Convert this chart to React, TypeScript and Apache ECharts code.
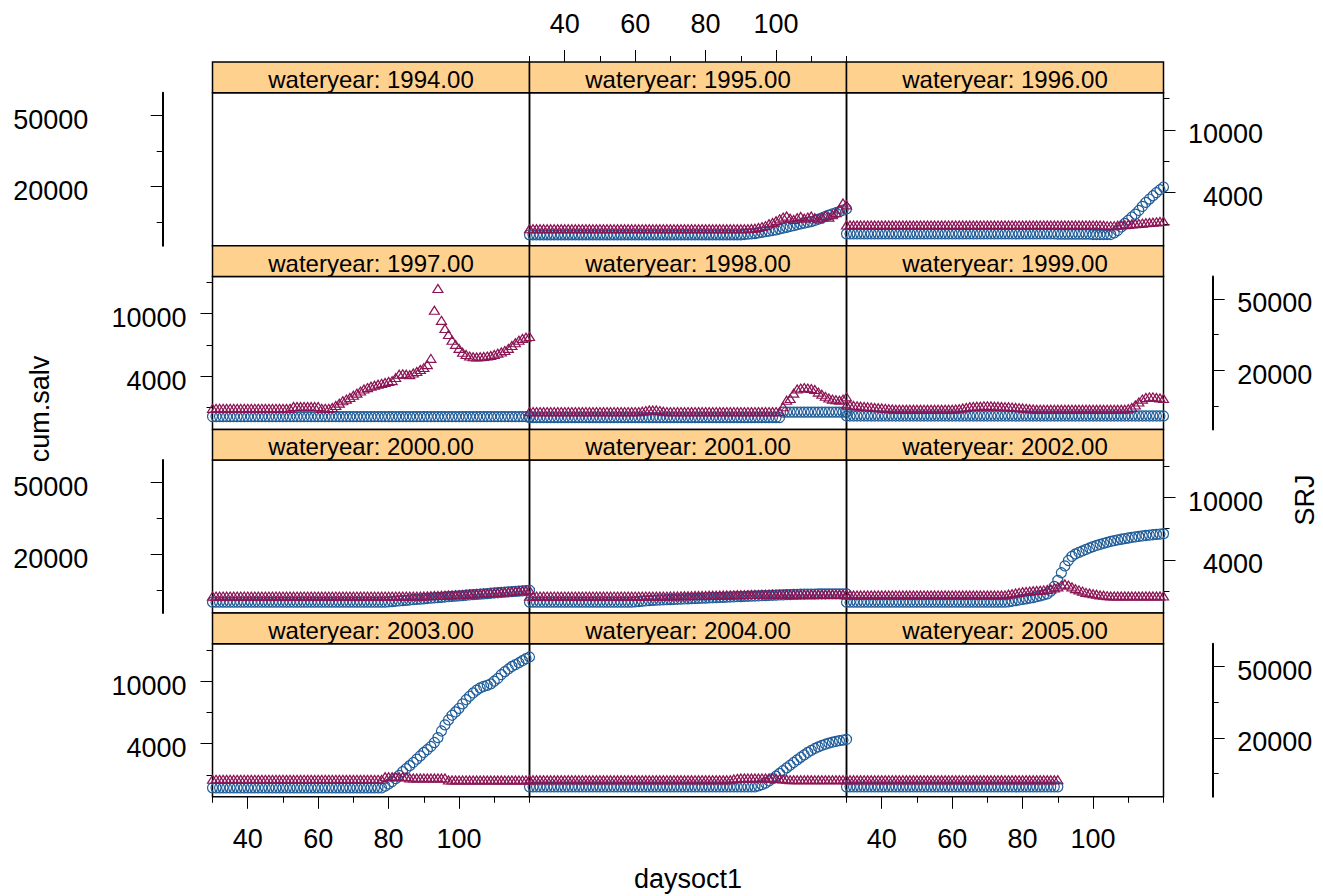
import { useEffect, useRef } from "react";
import * as echarts from "echarts";

// ---------------- data ----------------
const days = [
  30, 31, 32, 33, 34, 35, 36, 37, 38, 39,
  40, 41, 42, 43, 44, 45, 46, 47, 48, 49,
  50, 51, 52, 53, 54, 55, 56, 57, 58, 59,
  60, 61, 62, 63, 64, 65, 66, 67, 68, 69,
  70, 71, 72, 73, 74, 75, 76, 77, 78, 79,
  80, 81, 82, 83, 84, 85, 86, 87, 88, 89,
  90, 91, 92, 93, 94, 95, 96, 97, 98, 99,
  100, 101, 102, 103, 104, 105, 106, 107, 108, 109,
  110, 111, 112, 113, 114, 115, 116, 117, 118, 119,
  120,
];

const years = [1994, 1995, 1996, 1997, 1998, 1999, 2000, 2001, 2002, 2003, 2004, 2005];

const cum1994: number[] = [];
const srj1994: number[] = [];

const cum1995 = [
  2140, 2140, 2140, 2140, 2140, 2140, 2140, 2140, 2140, 2140,
  2140, 2140, 2140, 2140, 2140, 2140, 2140, 2140, 2140, 2140,
  2140, 2140, 2140, 2140, 2140, 2140, 2140, 2140, 2140, 2140,
  2140, 2140, 2140, 2140, 2140, 2140, 2140, 2140, 2140, 2140,
  2140, 2140, 2140, 2140, 2140, 2140, 2140, 2140, 2140, 2140,
  2140, 2140, 2140, 2140, 2140, 2140, 2140, 2140, 2140, 2140,
  2140, 2150, 2160, 2170, 2180, 2200, 2220, 2240, 2260, 2280,
  2300, 2330, 2360, 2390, 2420, 2450, 2480, 2510, 2540, 2570,
  2600, 2640, 2690, 2740, 2800, 2860, 2910, 2960, 3010, 3070,
  3130,
];
const srj1995 = [
  11630, 11630, 11630, 11630, 11630, 11630, 11630, 11630, 11630, 11630,
  11630, 11630, 11630, 11630, 11630, 11630, 11630, 11630, 11630, 11630,
  11630, 11630, 11630, 11630, 11630, 11630, 11630, 11630, 11630, 11630,
  11630, 11630, 11630, 11630, 11630, 11630, 11630, 11630, 11630, 11630,
  11630, 11630, 11630, 11630, 11630, 11630, 11630, 11630, 11630, 11630,
  11630, 11630, 11630, 11630, 11630, 11630, 11630, 11630, 11630, 11630,
  11630, 11630, 11630, 11650, 11700, 11800, 11950, 12100, 12400, 12600,
  12900, 13200, 13500, 13700, 13300, 13100, 13400, 13600, 13300, 13500,
  13700, 13400, 13200, 13500, 13800, 13500, 13900, 14300, 15000, 16200,
  15800,
];

const cum1996 = [
  2170, 2170, 2170, 2170, 2170, 2170, 2170, 2170, 2170, 2170,
  2170, 2170, 2170, 2170, 2170, 2170, 2170, 2170, 2170, 2170,
  2170, 2170, 2170, 2170, 2170, 2170, 2170, 2170, 2170, 2170,
  2170, 2170, 2170, 2170, 2170, 2170, 2170, 2170, 2170, 2170,
  2170, 2170, 2170, 2170, 2170, 2170, 2170, 2170, 2170, 2170,
  2170, 2170, 2170, 2170, 2170, 2170, 2170, 2170, 2170, 2170,
  2160, 2160, 2160, 2160, 2160, 2160, 2160, 2160, 2160, 2160,
  2150, 2150, 2150, 2150, 2150, 2150, 2200, 2280, 2400, 2530,
  2650, 2780, 2900, 3060, 3250, 3450, 3620, 3800, 3980, 4150,
  4320,
];
const srj1996 = [
  12200, 12200, 12200, 12200, 12200, 12200, 12200, 12200, 12200, 12200,
  12200, 12200, 12200, 12200, 12200, 12200, 12200, 12200, 12200, 12200,
  12200, 12200, 12200, 12200, 12200, 12200, 12200, 12200, 12200, 12200,
  12200, 12200, 12200, 12200, 12200, 12200, 12200, 12200, 12200, 12200,
  12200, 12200, 12200, 12200, 12200, 12200, 12200, 12200, 12200, 12200,
  12200, 12200, 12200, 12200, 12200, 12200, 12200, 12200, 12200, 12200,
  12200, 12200, 12200, 12200, 12200, 12200, 12200, 12200, 12200, 12200,
  12200, 12200, 12200, 12150, 12100, 12100, 12100, 12150, 12200, 12250,
  12300, 12350, 12400, 12450, 12500, 12550, 12600, 12650, 12700, 12750,
  12800,
];

const cum1997 = [
  2200, 2200, 2200, 2200, 2200, 2200, 2200, 2200, 2200, 2200,
  2200, 2200, 2200, 2200, 2200, 2200, 2200, 2200, 2200, 2200,
  2200, 2200, 2200, 2200, 2200, 2200, 2200, 2200, 2200, 2200,
  2200, 2200, 2200, 2200, 2200, 2200, 2200, 2200, 2200, 2200,
  2200, 2200, 2200, 2200, 2200, 2200, 2200, 2200, 2200, 2200,
  2200, 2200, 2200, 2200, 2200, 2200, 2200, 2200, 2200, 2200,
  2200, 2200, 2200, 2200, 2200, 2200, 2200, 2200, 2200, 2200,
  2200, 2200, 2200, 2200, 2200, 2200, 2200, 2200, 2200, 2200,
  2200, 2200, 2200, 2200, 2200, 2200, 2200, 2200, 2200, 2200,
  2200,
];
const srj1997 = [
  12250, 12250, 12250, 12250, 12250, 12250, 12250, 12250, 12250, 12250,
  12250, 12250, 12250, 12250, 12250, 12250, 12250, 12250, 12250, 12250,
  12250, 12250, 12250, 12560, 12560, 12560, 12560, 12560, 12560, 12560,
  12560, 12250, 12250, 12250, 12400, 12700, 13100, 13500, 13800, 14100,
  14500, 14900, 15300, 15700, 16000, 16300, 16500, 16700, 16900, 17100,
  17300, 17500, 18200, 19000, 19100, 19000, 18900, 19300, 19700, 20200,
  20700, 21500, 23300, 43300, 57300, 38000, 34200, 31700, 29400, 27900,
  26500, 25200, 24500, 24000, 23800, 23700, 23800, 23900, 24000, 24200,
  24500, 24900, 25300, 25800, 26500, 27500, 28500, 29400, 30100, 30600,
  30900,
];

const cum1998 = [
  2170, 2170, 2170, 2170, 2170, 2170, 2170, 2170, 2170, 2170,
  2170, 2170, 2170, 2170, 2170, 2170, 2170, 2170, 2170, 2170,
  2170, 2170, 2170, 2170, 2170, 2170, 2170, 2170, 2170, 2170,
  2170, 2170, 2170, 2170, 2170, 2170, 2170, 2170, 2170, 2170,
  2170, 2170, 2170, 2170, 2170, 2170, 2170, 2170, 2170, 2170,
  2170, 2170, 2170, 2170, 2170, 2170, 2170, 2170, 2170, 2170,
  2170, 2170, 2170, 2170, 2170, 2170, 2170, 2170, 2170, 2170,
  2170, 2170, 2350, 2350, 2350, 2350, 2350, 2350, 2350, 2350,
  2350, 2350, 2350, 2350, 2350, 2350, 2350, 2350, 2350, 2350,
  2350,
];
const srj1998 = [
  11750, 11750, 11750, 11750, 11750, 11750, 11750, 11750, 11750, 11750,
  11750, 11750, 11750, 11750, 11750, 11750, 11750, 11750, 11750, 11750,
  11750, 11750, 11750, 11750, 11750, 11750, 11750, 11750, 11750, 11750,
  11750, 11750, 11800, 11900, 12000, 12000, 12000, 11900, 11800, 11750,
  11750, 11750, 11750, 11750, 11750, 11750, 11750, 11750, 11750, 11750,
  11750, 11750, 11750, 11750, 11750, 11750, 11750, 11750, 11750, 11750,
  11750, 11750, 11750, 11750, 11750, 11750, 11750, 11750, 11750, 11750,
  11750, 11750, 12500, 13600, 13900, 14900, 15700, 15900, 16000, 15900,
  15800, 15600, 15100, 14700, 14300, 14000, 13800, 13700, 13600, 13800,
  14200,
];

const cum1999 = [
  2220, 2220, 2220, 2220, 2220, 2220, 2220, 2220, 2220, 2220,
  2220, 2220, 2220, 2220, 2220, 2220, 2220, 2220, 2220, 2220,
  2220, 2220, 2220, 2220, 2220, 2220, 2220, 2220, 2220, 2220,
  2220, 2220, 2220, 2220, 2220, 2220, 2220, 2220, 2220, 2220,
  2220, 2220, 2220, 2220, 2220, 2220, 2220, 2220, 2220, 2220,
  2220, 2220, 2220, 2220, 2220, 2220, 2220, 2220, 2220, 2220,
  2220, 2220, 2220, 2220, 2220, 2220, 2220, 2220, 2220, 2220,
  2220, 2220, 2220, 2220, 2220, 2220, 2220, 2220, 2220, 2220,
  2220, 2220, 2220, 2220, 2220, 2220, 2220, 2220, 2220, 2220,
  2220,
];
const srj1999 = [
  12800, 12750, 12700, 12650, 12600, 12550, 12500, 12450, 12400, 12350,
  12300, 12250, 12200, 12150, 12100, 12100, 12100, 12100, 12100, 12100,
  12100, 12100, 12100, 12100, 12100, 12100, 12100, 12100, 12100, 12100,
  12100, 12150, 12200, 12300, 12400, 12500, 12550, 12600, 12600, 12650,
  12650, 12650, 12600, 12600, 12550, 12500, 12500, 12450, 12400, 12350,
  12300, 12250, 12200, 12150, 12100, 12100, 12100, 12100, 12100, 12100,
  12100, 12100, 12100, 12100, 12100, 12100, 12100, 12100, 12100, 12100,
  12100, 12100, 12100, 12100, 12100, 12100, 12100, 12100, 12100, 12100,
  12200, 12400, 12800, 13300, 13800, 14100, 14200, 14200, 14100, 14000,
  13900,
];

const cum2000 = [
  2140, 2140, 2140, 2140, 2140, 2140, 2140, 2140, 2140, 2140,
  2140, 2140, 2140, 2140, 2140, 2140, 2140, 2140, 2140, 2140,
  2140, 2140, 2140, 2140, 2140, 2140, 2140, 2140, 2140, 2140,
  2140, 2140, 2140, 2140, 2140, 2140, 2140, 2140, 2140, 2140,
  2140, 2140, 2140, 2140, 2140, 2140, 2140, 2140, 2140, 2140,
  2150, 2160, 2170, 2180, 2190, 2200, 2210, 2220, 2230, 2240,
  2250, 2260, 2270, 2280, 2290, 2300, 2310, 2320, 2330, 2340,
  2350, 2360, 2370, 2380, 2390, 2400, 2410, 2420, 2430, 2440,
  2450, 2460, 2470, 2480, 2490, 2500, 2510, 2520, 2530, 2540,
  2550,
];
const srj2000 = [
  11630, 11630, 11630, 11630, 11630, 11630, 11630, 11630, 11630, 11630,
  11630, 11630, 11630, 11630, 11630, 11630, 11630, 11630, 11630, 11630,
  11630, 11630, 11630, 11630, 11630, 11630, 11630, 11630, 11630, 11630,
  11630, 11630, 11630, 11630, 11630, 11630, 11630, 11630, 11630, 11630,
  11630, 11630, 11630, 11630, 11630, 11630, 11630, 11630, 11630, 11630,
  11630, 11630, 11630, 11630, 11630, 11630, 11630, 11630, 11630, 11630,
  11650, 11670, 11690, 11710, 11730, 11750, 11770, 11790, 11810, 11830,
  11850, 11880, 11910, 11940, 11970, 12000, 12030, 12060, 12090, 12120,
  12150, 12190, 12230, 12270, 12310, 12350, 12400, 12450, 12500, 12550,
  12600,
];

const cum2001 = [
  2140, 2140, 2140, 2140, 2140, 2140, 2140, 2140, 2140, 2140,
  2140, 2140, 2140, 2140, 2140, 2140, 2140, 2140, 2140, 2140,
  2140, 2140, 2140, 2140, 2140, 2140, 2140, 2140, 2140, 2140,
  2150, 2160, 2170, 2180, 2190, 2200, 2205, 2210, 2215, 2220,
  2225, 2230, 2235, 2240, 2245, 2250, 2255, 2260, 2265, 2270,
  2275, 2280, 2285, 2290, 2295, 2300, 2305, 2310, 2315, 2320,
  2325, 2330, 2335, 2340, 2345, 2350, 2355, 2360, 2365, 2370,
  2375, 2380, 2385, 2390, 2395, 2400, 2400, 2405, 2405, 2410,
  2410, 2410, 2415, 2415, 2415, 2420, 2420, 2420, 2420, 2420,
  2420,
];
const srj2001 = [
  11630, 11630, 11630, 11630, 11630, 11630, 11630, 11630, 11630, 11630,
  11630, 11630, 11630, 11630, 11630, 11630, 11630, 11630, 11630, 11630,
  11630, 11630, 11630, 11630, 11630, 11630, 11630, 11630, 11630, 11630,
  11630, 11630, 11630, 11630, 11630, 11630, 11630, 11630, 11630, 11630,
  11640, 11650, 11660, 11670, 11680, 11690, 11700, 11710, 11720, 11730,
  11740, 11750, 11760, 11770, 11780, 11790, 11800, 11810, 11820, 11830,
  11840, 11850, 11860, 11870, 11880, 11890, 11900, 11900, 11900, 11900,
  11900, 11900, 11900, 11900, 11900, 11900, 11900, 11900, 11900, 11900,
  11900, 11900, 11900, 11900, 11900, 11900, 11900, 11900, 11900, 11900,
  11900,
];

const cum2002 = [
  2140, 2140, 2140, 2140, 2140, 2140, 2140, 2140, 2140, 2140,
  2140, 2140, 2140, 2140, 2140, 2140, 2140, 2140, 2140, 2140,
  2140, 2140, 2140, 2140, 2140, 2140, 2140, 2140, 2140, 2140,
  2140, 2140, 2140, 2140, 2140, 2140, 2140, 2140, 2140, 2140,
  2140, 2140, 2140, 2140, 2140, 2140, 2150, 2170, 2190, 2210,
  2230, 2250, 2270, 2290, 2320, 2350, 2380, 2420, 2520, 2700,
  2950, 3300, 3650, 3950, 4200, 4350, 4450, 4550, 4650, 4750,
  4850, 4930, 5010, 5090, 5160, 5230, 5290, 5350, 5400, 5450,
  5500, 5550, 5590, 5630, 5670, 5710, 5740, 5770, 5800, 5830,
  5860,
];
const srj2002 = [
  11800, 11800, 11800, 11800, 11800, 11800, 11800, 11800, 11800, 11800,
  11800, 11800, 11800, 11800, 11800, 11800, 11800, 11800, 11800, 11800,
  11800, 11800, 11800, 11800, 11800, 11800, 11800, 11800, 11800, 11800,
  11800, 11800, 11800, 11800, 11800, 11800, 11800, 11800, 11800, 11800,
  11800, 11800, 11800, 11800, 11800, 11800, 11900, 12000, 12100, 12200,
  12300, 12350, 12400, 12450, 12500, 12550, 12600, 12650, 12750, 12900,
  13100, 13400, 13600, 13400, 13100, 12800, 12600, 12400, 12200, 12100,
  12000, 11900, 11800, 11750, 11700, 11650, 11650, 11650, 11650, 11650,
  11650, 11650, 11650, 11650, 11650, 11650, 11650, 11650, 11650, 11650,
  11650,
];

const cum2003 = [
  2080, 2080, 2080, 2080, 2080, 2080, 2080, 2080, 2080, 2080,
  2080, 2080, 2080, 2080, 2080, 2080, 2080, 2080, 2080, 2080,
  2080, 2080, 2080, 2080, 2080, 2080, 2080, 2080, 2080, 2080,
  2080, 2080, 2080, 2080, 2080, 2080, 2080, 2080, 2080, 2080,
  2080, 2080, 2080, 2080, 2080, 2080, 2080, 2080, 2080, 2130,
  2200, 2280, 2380, 2500, 2640, 2760, 2880, 3020, 3170, 3330,
  3500, 3650, 3820, 4050, 4350, 4800, 5250, 5650, 6050, 6350,
  6700, 7150, 7600, 8000, 8400, 8750, 9050, 9250, 9400, 9600,
  10000, 10400, 11000, 11500, 11950, 12400, 12750, 13100, 13500, 13900,
  14250,
];
const srj2003 = [
  11700, 11700, 11700, 11700, 11700, 11700, 11700, 11700, 11700, 11700,
  11700, 11700, 11700, 11700, 11700, 11700, 11700, 11700, 11700, 11700,
  11700, 11700, 11700, 11700, 11700, 11700, 11700, 11700, 11700, 11700,
  11700, 11700, 11700, 11700, 11700, 11700, 11700, 11700, 11700, 11700,
  11700, 11700, 11700, 11700, 11700, 11700, 11700, 11700, 11700, 12100,
  12100, 12100, 12100, 12100, 12100, 12100, 11900, 11900, 11900, 11900,
  11900, 11900, 11900, 11900, 11900, 11900, 11900, 11600, 11600, 11600,
  11600, 11600, 11600, 11600, 11600, 11600, 11600, 11600, 11600, 11600,
  11600, 11600, 11600, 11600, 11600, 11600, 11600, 11600, 11600, 11600,
  11600,
];

const cum2004 = [
  2110, 2110, 2110, 2110, 2110, 2110, 2110, 2110, 2110, 2110,
  2110, 2110, 2110, 2110, 2110, 2110, 2110, 2110, 2110, 2110,
  2110, 2110, 2110, 2110, 2110, 2110, 2110, 2110, 2110, 2110,
  2110, 2110, 2110, 2110, 2110, 2110, 2110, 2110, 2110, 2110,
  2110, 2110, 2110, 2110, 2110, 2110, 2110, 2110, 2110, 2110,
  2110, 2110, 2110, 2110, 2110, 2110, 2110, 2110, 2110, 2110,
  2110, 2110, 2110, 2110, 2110, 2140, 2180, 2230, 2300, 2380,
  2470, 2570, 2680, 2790, 2900, 3020, 3140, 3260, 3380, 3500,
  3610, 3710, 3800, 3880, 3950, 4010, 4070, 4120, 4160, 4200,
  4240,
];
const srj2004 = [
  11650, 11650, 11650, 11650, 11650, 11650, 11650, 11650, 11650, 11650,
  11650, 11650, 11650, 11650, 11650, 11650, 11650, 11650, 11650, 11650,
  11650, 11650, 11650, 11650, 11650, 11650, 11650, 11650, 11650, 11650,
  11650, 11650, 11650, 11650, 11650, 11650, 11650, 11650, 11650, 11650,
  11650, 11650, 11650, 11650, 11650, 11650, 11650, 11650, 11650, 11650,
  11650, 11650, 11650, 11650, 11650, 11650, 11650, 11650, 11750, 11850,
  11900, 11900, 11900, 11900, 11900, 11900, 11900, 11900, 11900, 11900,
  11850, 11800, 11750, 11700, 11650, 11650, 11650, 11650, 11650, 11650,
  11650, 11650, 11650, 11650, 11650, 11650, 11650, 11650, 11650, 11650,
  11650,
];

const cum2005 = [
  2110, 2110, 2110, 2110, 2110, 2110, 2110, 2110, 2110, 2110,
  2110, 2110, 2110, 2110, 2110, 2110, 2110, 2110, 2110, 2110,
  2110, 2110, 2110, 2110, 2110, 2110, 2110, 2110, 2110, 2110,
  2110, 2110, 2110, 2110, 2110, 2110, 2110, 2110, 2110, 2110,
  2110, 2110, 2110, 2110, 2110, 2110, 2110, 2110, 2110, 2110,
  2110, 2110, 2110, 2110, 2110, 2110, 2110, 2110, 2110, 2110,
  2110,
];
const srj2005 = [
  11650, 11650, 11650, 11650, 11650, 11650, 11650, 11650, 11650, 11650,
  11650, 11650, 11650, 11650, 11650, 11650, 11650, 11650, 11650, 11650,
  11650, 11650, 11650, 11650, 11650, 11650, 11650, 11650, 11650, 11650,
  11650, 11650, 11650, 11650, 11650, 11650, 11650, 11650, 11650, 11650,
  11650, 11650, 11650, 11650, 11650, 11650, 11650, 11650, 11650, 11650,
  11650, 11650, 11650, 11650, 11650, 11650, 11650, 11650, 11650, 11650,
  11650,
];

const cumByYear = [cum1994, cum1995, cum1996, cum1997, cum1998, cum1999, cum2000, cum2001, cum2002, cum2003, cum2004, cum2005];
const srjByYear = [srj1994, srj1995, srj1996, srj1997, srj1998, srj1999, srj2000, srj2001, srj2002, srj2003, srj2004, srj2005];

// axis limits (log10 scale) and ticks
const xLimits = [30, 120];
const xMajorTicks = [40, 60, 80, 100];
const xMinorTicks = [30, 50, 70, 90, 110, 120];
const cumLimitsLog = [3.2607, 4.2383];
const cumMajorTicksLog = [3.6, 4.0];
const cumMajorLabels = ["4000", "10000"];
const cumMinorTicksLog = [3.4, 3.8, 4.2];
const srjLimitsLog = [3.9706, 4.8253];
const srjMajorTicksLog = [4.3, 4.7];
const srjMajorLabels = ["20000", "50000"];
const srjMinorTicksLog = [4.1, 4.5];

// ---------------- style / layout ----------------
const FONT = "'Liberation Sans', Arial, Helvetica, sans-serif";
const BLUE = "#1f5c98";
const RED = "#8c1454";
const STRIP = "#ffd18f";
const colLeft = [212.5, 529.5, 846.5];
const panelW = 317;
const stripH = 30.7;
const panelH = 153;
const rowPitch = 183.7;
const firstStripTop = 62;
const panelTop = (r: number) => firstStripTop + stripH + r * rowPitch;

function labelFor(ticks: number[], labels: string[]) {
  return (v: number) => {
    let best = -1;
    let bd = 1e9;
    ticks.forEach((t, i) => {
      const d = Math.abs(t - v);
      if (d < bd) {
        bd = d;
        best = i;
      }
    });
    return bd < 1e-6 ? labels[best] : "";
  };
}

function buildOption() {
  const grid: any[] = [];
  const xAxis: any[] = [];
  const yAxis: any[] = [];
  const series: any[] = [];
  const graphic: any[] = [];

  years.forEach((yr, i) => {
    const r = Math.floor(i / 3);
    const c = i % 3;
    const left = colLeft[c];
    const top = panelTop(r);
    grid.push({
      left,
      top,
      width: panelW,
      height: panelH,
      show: true,
      borderColor: "#000",
      borderWidth: 1.5,
      backgroundColor: "transparent",
    });
    xAxis.push({ gridIndex: i, type: "value", min: xLimits[0], max: xLimits[1], show: false });
    yAxis.push({ gridIndex: i, type: "value", min: cumLimitsLog[0], max: cumLimitsLog[1], show: false });
    yAxis.push({ gridIndex: i, type: "value", min: srjLimitsLog[0], max: srjLimitsLog[1], show: false });

    const cumVals = cumByYear[i];
    const srjVals = srjByYear[i];
    series.push({
      type: "scatter",
      xAxisIndex: i,
      yAxisIndex: 2 * i,
      data: cumVals.map((v, k) => [days[k], Math.log10(v)]),
      symbol: "circle",
      symbolSize: 10,
      clip: false,
      silent: true,
      itemStyle: { color: "transparent", borderColor: BLUE, borderWidth: 1.2, opacity: 1 },
      z: 3,
    });
    series.push({
      type: "scatter",
      xAxisIndex: i,
      yAxisIndex: 2 * i + 1,
      data: srjVals.map((v, k) => [days[k], Math.log10(v)]),
      symbol: "triangle",
      symbolSize: [10, 8],
      clip: false,
      silent: true,
      itemStyle: { color: "transparent", borderColor: RED, borderWidth: 1.2, opacity: 1 },
      z: 4,
    });

    // strip
    graphic.push({
      type: "rect",
      shape: { x: left, y: top - stripH, width: panelW, height: stripH },
      style: { fill: STRIP, stroke: "#000", lineWidth: 1.5 },
      silent: true,
    });
    graphic.push({
      type: "text",
      x: left + panelW / 2,
      y: top - stripH + 17.5,
      style: {
        text: `wateryear: ${yr}.00`,
        fontSize: 24,
        fontFamily: FONT,
        fill: "#000",
        textAlign: "center",
        textVerticalAlign: "middle",
      },
      silent: true,
    });
  });

  // decoration x axes
  const xDeco = (g: number, position: string, offset: number, margin: number) => {
    const base = {
      gridIndex: g,
      type: "value",
      min: xLimits[0],
      max: xLimits[1],
      position,
      offset,
      axisLine: { show: false, onZero: false },
      splitLine: { show: false },
    };
    xAxis.push({
      ...base,
      axisTick: { show: true, length: 12, customValues: xMajorTicks, lineStyle: { color: "#000", width: 1 } },
      axisLabel: {
        show: true,
        customValues: xMajorTicks,
        fontSize: 27,
        fontFamily: FONT,
        color: "#000",
        margin,
      },
    });
    xAxis.push({
      ...base,
      axisTick: { show: true, length: 6, customValues: xMinorTicks, lineStyle: { color: "#000", width: 1 } },
      axisLabel: { show: false },
    });
  };
  xDeco(9, "bottom", 0, 29);
  xDeco(11, "bottom", 0, 29);
  xDeco(1, "top", stripH, 24.5);

  // decoration y axes
  const yDeco = (
    g: number,
    kind: "cum" | "srj",
    position: string,
    offset: number,
    margin: number,
    showLine: boolean,
    align?: string
  ) => {
    const lim = kind === "cum" ? cumLimitsLog : srjLimitsLog;
    const majors = kind === "cum" ? cumMajorTicksLog : srjMajorTicksLog;
    const labels = kind === "cum" ? cumMajorLabels : srjMajorLabels;
    const minors = kind === "cum" ? cumMinorTicksLog : srjMinorTicksLog;
    const base = {
      gridIndex: g,
      type: "value",
      min: lim[0],
      max: lim[1],
      position,
      offset,
      splitLine: { show: false },
    };
    yAxis.push({
      ...base,
      axisLine: { show: showLine, onZero: false, lineStyle: { color: "#000", width: 2 } },
      axisTick: { show: true, length: 12, customValues: majors, lineStyle: { color: "#000", width: 1 } },
      axisLabel: {
        show: true,
        customValues: majors,
        formatter: labelFor(majors, labels),
        fontSize: 27,
        fontFamily: FONT,
        color: "#000",
        margin,
        verticalAlign: "top",
        lineHeight: 9,
        ...(align ? { align } : {}),
      },
    });
    yAxis.push({
      ...base,
      axisLine: { show: false, onZero: false },
      axisTick: { show: true, length: 6, customValues: minors, lineStyle: { color: "#000", width: 1 } },
      axisLabel: { show: false },
    });
  };
  // left column
  yDeco(0, "srj", "left", 49.8, 74.4, true);
  yDeco(6, "srj", "left", 49.8, 74.4, true);
  yDeco(3, "cum", "left", 0, 26, false);
  yDeco(9, "cum", "left", 0, 26, false);
  // right column
  yDeco(2, "cum", "right", 0, 99.5, false, "right");
  yDeco(8, "cum", "right", 0, 99.5, false, "right");
  yDeco(5, "srj", "right", 49.2, 24.6, true);
  yDeco(11, "srj", "right", 49.2, 24.6, true);

  // axis titles
  graphic.push({
    type: "text",
    x: 688,
    y: 879,
    style: { text: "daysoct1", fontSize: 27, fontFamily: FONT, fill: "#000", textAlign: "center", textVerticalAlign: "middle" },
    silent: true,
  });
  graphic.push({
    type: "text",
    x: 40,
    y: 409,
    rotation: Math.PI / 2,
    style: { text: "cum.salv", fontSize: 27, fontFamily: FONT, fill: "#000", textAlign: "center", textVerticalAlign: "middle" },
    silent: true,
  });
  graphic.push({
    type: "text",
    x: 1305,
    y: 500,
    rotation: Math.PI / 2,
    style: { text: "SRJ", fontSize: 27, fontFamily: FONT, fill: "#000", textAlign: "center", textVerticalAlign: "middle" },
    silent: true,
  });

  return {
    animation: false,
    backgroundColor: "#ffffff",
    grid,
    xAxis,
    yAxis,
    series,
    graphic,
  };
}

export default function App() {
  const ref = useRef<HTMLDivElement | null>(null);
  useEffect(() => {
    if (!ref.current) return;
    const chart = echarts.init(ref.current, null, { renderer: "svg" });
    chart.setOption(buildOption() as any);
    return () => chart.dispose();
  }, []);
  return (
    <div
      ref={ref}
      style={{ position: "fixed", left: 0, top: 0, width: 1323, height: 896, background: "#fff" }}
    />
  );
}
